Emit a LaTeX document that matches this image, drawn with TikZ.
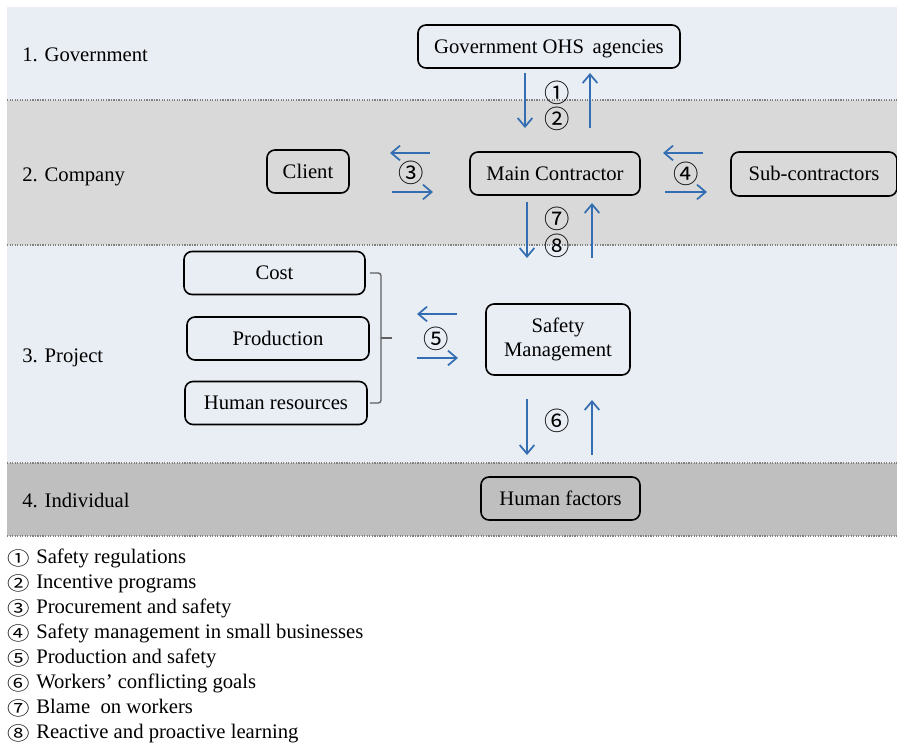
\documentclass[tikz,border=0pt]{standalone}
\usepackage{fontspec}
\setmainfont{Liberation Serif}
\newfontfamily\circfont{Noto Sans CJK JP}
\usetikzlibrary{arrows.meta}

\definecolor{bandlight}{RGB}{233,237,244}
\definecolor{bandmid}{RGB}{217,217,217}
\definecolor{banddark}{RGB}{191,191,191}
\definecolor{flowblue}{RGB}{52,110,178}
\definecolor{bracketgray}{RGB}{95,95,95}

% legend numbers are set slightly wide
\newcommand{\widecirc}[2]{\scalebox{#1}[1]{#2}}

\tikzset{
  box/.style 2 args={draw, line width=1.2pt, rounded corners=6pt,
    minimum width={#1*0.75pt}, minimum height={#2*0.75pt}, align=center},
  oneline/.style={text height=12pt, text depth=2.2pt},
  levellabel/.style={anchor=base west},
  flow/.style={draw=flowblue, line width=1.3pt,
    -{Straight Barb[length=6.5pt,width=11pt,line width=1.3pt]}},
  circnum/.style={font=\circfont\fontsize{19}{19}\selectfont},
  legnum/.style={font=\circfont\fontsize{14}{14}\selectfont},
  legtext/.style={anchor=base west},
  separator/.style={draw=gray, densely dotted, line width=0.9pt}
}

\begin{document}
\begin{tikzpicture}[x=0.75pt,y=-0.75pt,
  every node/.style={font=\fontsize{15.5}{18}\selectfont, inner sep=0pt}]

\useasboundingbox (0,0) rectangle (897,743);

% level bands
\fill[bandlight] (7,7) rectangle (897,100);
\fill[bandmid]   (7,100) rectangle (897,245);
\fill[bandlight] (7,245) rectangle (897,463);
\fill[banddark]  (7,463) rectangle (897,536);
\foreach \yy in {100,245,463,536}
  \draw[separator] (7,\yy) -- (897,\yy);

% level names
\node[levellabel] (lv1) at (22,61)  {1. Government};
\node[levellabel] (lv2) at (22,181) {2. Company};
\node[levellabel] (lv3) at (22,362) {3. Project};
\node[levellabel] (lv4) at (22,507) {4. Individual};

% actors
\node[box={262}{43}, oneline] (gov)    at (549,46.5)  {Government OHS\, agencies};
\node[box={82}{43}, oneline]  (client) at (308,171.5) {Client};
\node[box={170}{43}, oneline] (main)   at (555,173.5) {Main Contractor};
\node[box={166}{44}, oneline] (sub)    at (814,174)   {Sub-contractors};
\node[box={181}{43}, oneline] (cost)   at (274.5,273) {Cost};
\node[box={182}{43}, oneline] (prod)   at (278,338.5) {Production};
\node[box={182}{43}, oneline] (hr)     at (276,403)   {Human resources};
\node[box={144}{71}]          (safety) at (558,339.5) {Safety\\Management};
\node[box={159}{43}, oneline] (human)  at (560.5,498.5) {Human factors};

% bracket grouping the project resources
\draw[bracketgray, line width=1pt, rounded corners=2pt]
  ([xshift=4*0.75pt]cost.east) -- (381,273) -- (381,403) -- ([xshift=2*0.75pt]hr.east);
\draw[bracketgray, line width=1pt] (381,338) coordinate (brk) -- (392,338) coordinate (brktip);

% flow end points
\coordinate (g1a) at (525,73);  \coordinate (g1b) at (525,128);
\coordinate (g2a) at (590,128); \coordinate (g2b) at (590,73);
\coordinate (c1a) at (430,153); \coordinate (c1b) at (390,153);
\coordinate (c2a) at (392,192); \coordinate (c2b) at (433,192);
\coordinate (s1a) at (703,153); \coordinate (s1b) at (663,153);
\coordinate (s2a) at (665,192); \coordinate (s2b) at (707,192);
\coordinate (m1a) at (527,202); \coordinate (m1b) at (527,258);
\coordinate (m2a) at (592,258); \coordinate (m2b) at (592,203);
\coordinate (p1a) at (457,314); \coordinate (p1b) at (417,314);
\coordinate (p2a) at (417,358); \coordinate (p2b) at (458,358);
\coordinate (h1a) at (527,399); \coordinate (h1b) at (527,455);
\coordinate (h2a) at (592,455); \coordinate (h2b) at (592,400);

\draw[flow] (g1a) -- (g1b);
\draw[flow] (g2a) -- (g2b);
\draw[flow] (c1a) -- (c1b);
\draw[flow] (c2a) -- (c2b);
\draw[flow] (s1a) -- (s1b);
\draw[flow] (s2a) -- (s2b);
\draw[flow] (m1a) -- (m1b);
\draw[flow] (m2a) -- (m2b);
\draw[flow] (p1a) -- (p1b);
\draw[flow] (p2a) -- (p2b);
\draw[flow] (h1a) -- (h1b);
\draw[flow] (h2a) -- (h2b);

% relation numbers
\node[circnum] (n1) at (557,93)  {①};
\node[circnum] (n2) at (557,119) {②};
\node[circnum] (n3) at (411,173) {③};
\node[circnum] (n4) at (686,174) {④};
\node[circnum] (n5) at (436,339) {⑤};
\node[circnum] (n6) at (557,421) {⑥};
\node[circnum] (n7) at (557,219) {⑦};
\node[circnum] (n8) at (557,246) {⑧};

% legend
\foreach \k/\num/\txt [evaluate=\k as \yb using 563+25*\k] in {
  0/①/Safety regulations,
  1/②/Incentive programs,
  2/③/Procurement and safety,
  3/④/Safety management in small businesses,
  4/⑤/Production and safety,
  5/⑥/Workers’ conflicting goals,
  6/⑦/Blame~ on workers,
  7/⑧/Reactive and proactive learning} {
  \node[legnum] (leg\k) at (18.5,\yb-5) {\widecirc{1.2}{\num}};
  \node[legtext] (legt\k) at (36,\yb) {\txt};
}
\end{tikzpicture}
\end{document}
